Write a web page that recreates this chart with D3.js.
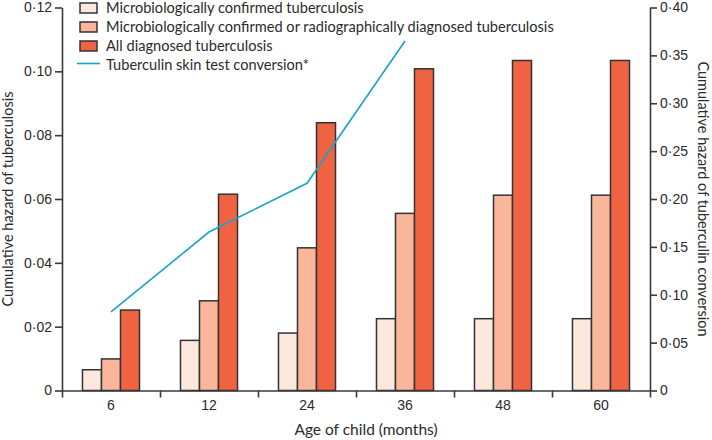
<!DOCTYPE html>
<html>
<head>
<meta charset="utf-8">
<script src="https://cdn.jsdelivr.net/npm/d3@7"></script>
<style>
  body { margin: 0; background: #fff; }
  svg { display: block; font-family: Lato, "Open Sans", sans-serif; }
  .axis text { font-size: 14px; fill: #2b2b2b; }
  .axis path, .axis line { stroke: #3a3a3a; stroke-width: 1.6px; }
</style>
</head>
<body>
<svg width="712" height="440"></svg>
<script>
// categories and values
const ages = ['6', '12', '24', '36', '48', '60'];
const microConfirmed = [0.0065, 0.0157, 0.0180, 0.0225, 0.0225, 0.0225];
const microOrRadio = [0.0099, 0.0281, 0.0447, 0.0555, 0.0612, 0.0612];
const allDiagnosed = [0.0252, 0.0615, 0.0839, 0.1008, 0.1034, 0.1034];
const tstConversion = [0.082, 0.1655, 0.2164, 0.365]; // only up to 36 months
const leftTicks = [0, 0.02, 0.04, 0.06, 0.08, 0.10, 0.12];
const rightTicks = [0, 0.05, 0.10, 0.15, 0.20, 0.25, 0.30, 0.35, 0.40];
const seriesNames = [
  'Microbiologically confirmed tuberculosis',
  'Microbiologically confirmed or radiographically diagnosed tuberculosis',
  'All diagnosed tuberculosis'
];
const lineName = 'Tuberculin skin test conversion*';

const colors = ['#fde8de', '#f9b69b', '#ef6343'];
const lineColor = '#1aa2c7';

const svg = d3.select('svg');
const plotLeft = 62, plotRight = 650, plotTop = 7.5, plotBottom = 390.5;

const x0 = d3.scaleBand().domain(ages).range([plotLeft, plotRight])
  .paddingInner(0.418).paddingOuter(0.209);
const x1 = d3.scaleBand().domain([0, 1, 2]).range([0, x0.bandwidth()]);
const yL = d3.scaleLinear().domain([0, 0.12]).range([plotBottom, plotTop]);
const yR = d3.scaleLinear().domain([0, 0.40]).range([plotBottom, plotTop]);
const xEdge = d3.scaleLinear().domain([0, ages.length]).range([plotLeft, plotRight]);

function fmt(d) { return d === 0 ? '0' : d3.format('.2f')(d).replace('.', '·'); }

// bars
const series = [microConfirmed, microOrRadio, allDiagnosed];
const groups = svg.append('g').selectAll('g')
  .data(ages)
  .enter().append('g')
    .attr('transform', d => 'translate(' + x0(d) + ',0)');
groups.selectAll('rect')
  .data((d, i) => series.map((s, k) => ({k: k, v: s[i]})))
  .enter().append('rect')
    .attr('x', d => x1(d.k))
    .attr('y', d => yL(d.v))
    .attr('width', x1.bandwidth())
    .attr('height', d => plotBottom - yL(d.v))
    .attr('fill', d => colors[d.k])
    .attr('stroke', '#333')
    .attr('stroke-width', 1.5);

// tuberculin line
const line = d3.line()
  .x((d, i) => x0(ages[i]) + x0.bandwidth() / 2)
  .y(d => yR(d));
svg.append('path')
  .datum(tstConversion)
  .attr('d', line)
  .attr('fill', 'none')
  .attr('stroke', lineColor)
  .attr('stroke-width', 1.6);

// axes
svg.append('g').attr('class', 'axis')
  .attr('transform', 'translate(' + plotLeft + ',0)')
  .call(d3.axisLeft(yL).tickValues(leftTicks).tickFormat(fmt).tickSize(7).tickSizeOuter(0).tickPadding(3));
svg.append('g').attr('class', 'axis')
  .attr('transform', 'translate(' + plotRight + ',0)')
  .call(d3.axisRight(yR).tickValues(rightTicks).tickFormat(fmt).tickSize(7).tickSizeOuter(0).tickPadding(3));
svg.append('g').attr('class', 'axis')
  .attr('transform', 'translate(0,' + plotBottom + ')')
  .call(d3.axisBottom(xEdge).tickValues(d3.range(ages.length + 1)).tickFormat('').tickSize(7).tickSizeOuter(0));
svg.append('g').attr('class', 'axis')
  .attr('transform', 'translate(0,' + plotBottom + ')')
  .call(d3.axisBottom(x0).tickSize(0).tickPadding(10))
  .call(g => g.select('.domain').remove());

// axis titles
svg.append('text')
  .attr('transform', 'translate(13,' + ((plotTop + plotBottom) / 2) + ') rotate(-90)')
  .attr('text-anchor', 'middle')
  .attr('font-size', 14.5).attr('fill', '#2b2b2b')
  .text('Cumulative hazard of tuberculosis');
svg.append('text')
  .attr('transform', 'translate(698,' + ((plotTop + plotBottom) / 2) + ') rotate(90)')
  .attr('text-anchor', 'middle')
  .attr('font-size', 14.5).attr('fill', '#2b2b2b')
  .text('Cumulative hazard of tuberculin conversion');
svg.append('text')
  .attr('x', 366).attr('y', 435)
  .attr('text-anchor', 'middle')
  .attr('font-size', 15.5).attr('fill', '#2b2b2b')
  .text('Age of child (months)');

// legend
const legend = svg.append('g').attr('transform', 'translate(80,3)');
seriesNames.forEach((name, i) => {
  const row = legend.append('g').attr('transform', 'translate(0,' + (i * 19) + ')');
  row.append('rect').attr('width', 17).attr('height', 10)
    .attr('fill', colors[i]).attr('stroke', '#333').attr('stroke-width', 1.5);
  row.append('text').attr('x', 26).attr('y', 9.8)
    .attr('font-size', 14.6).attr('fill', '#2b2b2b').text(name);
});
const lrow = legend.append('g').attr('transform', 'translate(0,' + (3 * 19) + ')');
lrow.append('line').attr('x1', -3).attr('x2', 20).attr('y1', 3.5).attr('y2', 3.5)
  .attr('stroke', lineColor).attr('stroke-width', 1.6);
lrow.append('text').attr('x', 26).attr('y', 9.8)
  .attr('font-size', 14.6).attr('fill', '#2b2b2b').text(lineName);
</script>
</body>
</html>
